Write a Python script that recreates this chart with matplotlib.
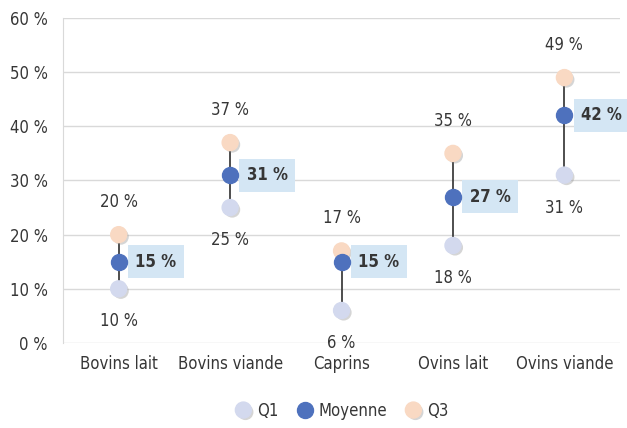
import numpy as np
import matplotlib.pyplot as plt
import matplotlib.patheffects as pe

# Data
categories = ['Bovins lait', 'Bovins viande', 'Caprins', 'Ovins lait', 'Ovins viande']
q1 = [10, 25, 6, 18, 31]
moyenne = [15, 31, 15, 27, 42]
q3 = [20, 37, 17, 35, 49]

# condensed font, close to the original narrow face
plt.rcParams['font.family'] = ['DejaVu Sans']
plt.rcParams['font.stretch'] = 'condensed'

c_q1 = '#d3d9ee'
c_moy = '#4e71bd'
c_q3 = '#f9d9c3'
txt = '#363636'

fig = plt.figure(figsize=(6.27, 4.28), dpi=100)
ax = fig.add_axes([0.1005, 0.1986, 0.8885, 0.7594])

x = np.arange(len(categories))
shadow = [pe.SimplePatchShadow(offset=(1.5, -1.5), shadow_rgbFace='#888888', alpha=0.35), pe.Normal()]

# line from Q1 to Q3
for i in range(len(categories)):
    ax.plot([x[i], x[i]], [q1[i], q3[i]], color='#404040', lw=1.3, zorder=2)

ms = 11.5
ax.plot(x, q1, 'o', ms=ms, color=c_q1, mec=c_q1, zorder=3, path_effects=shadow, label='Q1')
ax.plot(x, moyenne, 'o', ms=ms, color=c_moy, mec=c_moy, zorder=4, label='Moyenne')
ax.plot(x, q3, 'o', ms=ms, color=c_q3, mec=c_q3, zorder=3, path_effects=shadow, label='Q3')

fs = 12
for i in range(len(categories)):
    ax.annotate(f'{q3[i]} %', (x[i], q3[i]), xytext=(0, 17), textcoords='offset points',
                ha='center', va='bottom', fontsize=fs, color=txt)
    ax.annotate(f'{q1[i]} %', (x[i], q1[i]), xytext=(0, -17), textcoords='offset points',
                ha='center', va='top', fontsize=fs, color=txt)
    ax.annotate(f'{moyenne[i]} %', (x[i], moyenne[i]), xytext=(12, 0), textcoords='offset points',
                ha='left', va='center', fontsize=fs, color=txt, fontweight='bold',
                bbox=dict(boxstyle='square,pad=0.45', fc='#d4e6f4', ec='none'))

ax.set_xlim(-0.5, len(categories) - 0.5)
ax.set_ylim(0, 60)
ax.set_yticks(range(0, 61, 10))
ax.set_yticklabels([f'{v} %' for v in range(0, 61, 10)], fontsize=fs, color=txt)
ax.set_xticks(x)
ax.set_xticklabels(categories, fontsize=fs, color=txt)
ax.tick_params(axis='y', length=0, pad=11)
ax.tick_params(axis='x', length=0, pad=9)
ax.grid(axis='y', color='#d9d9d9', lw=1)
ax.set_axisbelow(True)
for s in ['top', 'right', 'bottom']:
    ax.spines[s].set_visible(False)
ax.spines['left'].set_color('#d9d9d9')

ax.legend(loc='upper center', bbox_to_anchor=(0.5, -0.135), ncol=3, frameon=False,
          fontsize=fs, handlelength=1.0, handletextpad=0.3, columnspacing=1.1, labelcolor=txt)

fig.savefig('out.png', dpi=100)
